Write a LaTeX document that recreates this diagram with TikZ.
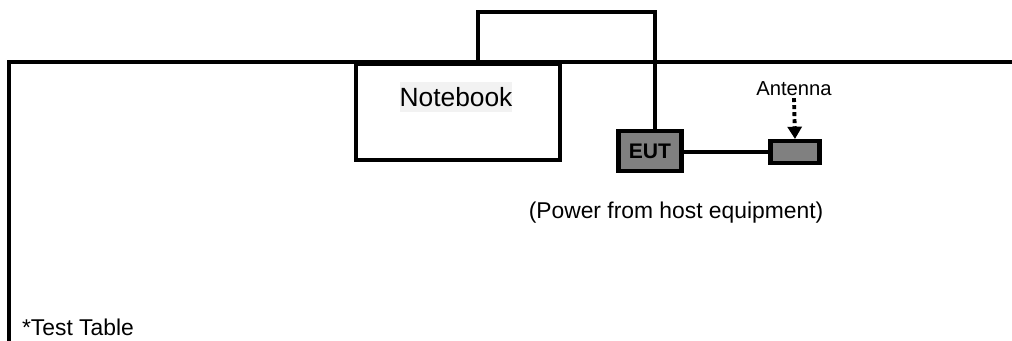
\documentclass[tikz,border=0pt]{standalone}
\usepackage{fontspec}
\setmainfont{Liberation Sans}
\usetikzlibrary{arrows.meta, positioning, calc}
\definecolor{eutgray}{RGB}{128,128,128}
\definecolor{labelbg}{RGB}{242,242,242}

\begin{document}
\begin{tikzpicture}[
    x=0.02cm, y=-0.02cm,
    txt/.style={font=\fontsize{13}{15}\selectfont, inner sep=1pt},
    boxline/.style={draw, line width=2.1pt},
    device/.style={boxline, fill=eutgray, line width=2.3pt},
    cable/.style={line width=2.2pt},
    beam/.style={line width=2.2pt, dash pattern=on 2.2pt off 1.8pt,
                 -{Triangle[length=7pt, width=8pt]}},
  ]
    \useasboundingbox (0,0) rectangle (1012,341);
    % test table
    \draw[cable] (1012,62) -- (9,62) -- (9,341);
    \node[txt, anchor=west] (table) at (20,327) {*Test Table};

    \node[boxline, fill=white, minimum width=204*0.02cm, minimum height=96*0.02cm,
          anchor=north west] (nb) at (354,62) {};
    \node[font=\fontsize{15}{17}\selectfont, fill=labelbg, inner xsep=0pt,
          inner ysep=3pt] (nblabel) at (456,97) {Notebook};

    \node[device, minimum width=63*0.02cm, minimum height=40*0.02cm,
          font=\fontsize{12}{14}\selectfont\bfseries, inner sep=0pt] (eut) at (650,151) {EUT};
    \node[device, minimum width=49*0.02cm, minimum height=22*0.02cm,
          inner sep=0pt] (ant) at (795,152) {};
    \node[txt, font=\fontsize{11.5}{13}\selectfont] (antlabel) at (794,89) {Antenna};
    \node[txt] (power) at (676,213) {(Power from host equipment)};

    \coordinate (cabtop) at (478,12);
    \draw[cable] (nb.north -| cabtop) -- (cabtop) -| ($(eut.north)+(5,0)$);
    \draw[cable] (eut.east |- ant) -- (ant.west);
    \draw[beam] (antlabel.south) -- (ant.north);
  \end{tikzpicture}
\end{document}
